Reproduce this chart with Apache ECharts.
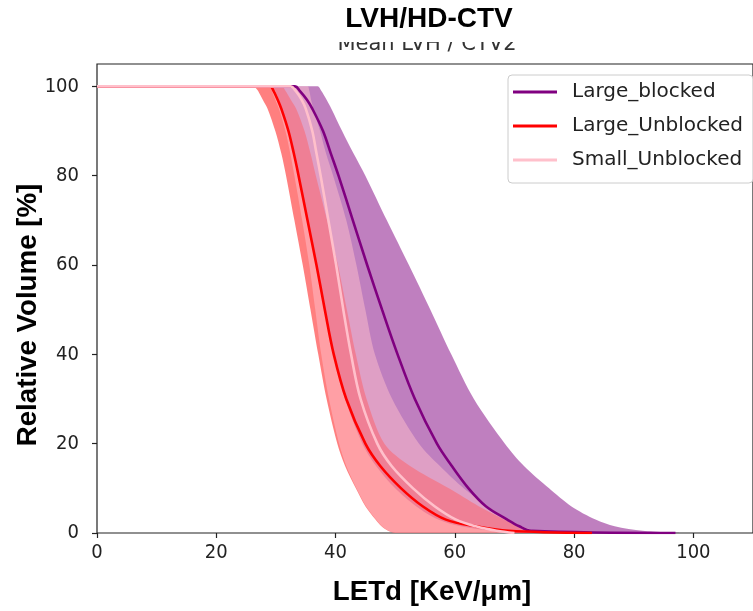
<!DOCTYPE html>
<html>
<head>
<meta charset="utf-8">
<script src="https://cdn.jsdelivr.net/npm/echarts@6/dist/echarts.min.js"></script>
<style>
html,body{margin:0;padding:0;background:#fff;}
#chart{width:753px;height:611px;}
</style>
</head>
<body>
<div id="chart"></div>
<script>
// relative volume levels [%] at which the LETd values were read
var volume = [100, 99, 97, 95, 90, 85, 80, 70, 60, 50, 40, 30, 20, 15, 10, 6, 3, 1.5, 0.5, 0];

// Large_blocked
var blockedMean = [33.2, 34.0, 35.2, 36.1, 37.9, 39.2, 40.5, 42.9, 45.3, 47.8, 50.4, 53.3, 57.0, 59.5, 62.3, 65.2, 68.8, 70.8, 72.8, 97.0];
var blockedLow  = [29.5, 29.9, 30.5, 31.0, 32.2, 33.0, 33.8, 35.3, 36.9, 38.3, 39.7, 41.6, 44.5, 46.8, 50.0, 53.5, 57.2, 61.0, 66.0, 70.0];
var blockedHigh = [37.0, 37.6, 38.5, 39.3, 41.1, 43.0, 45.0, 48.6, 52.3, 55.9, 59.4, 63.2, 68.4, 71.6, 75.8, 79.5, 83.6, 86.8, 91.5, 97.5];

// Large_Unblocked
var unblockedMean = [29.0, 29.6, 30.3, 30.9, 32.1, 33.0, 33.8, 35.3, 36.8, 38.2, 39.7, 41.8, 45.0, 47.5, 51.0, 54.6, 58.5, 63.5, 69.0, 83.0];
var unblockedLow  = [26.5, 27.0, 27.8, 28.6, 29.9, 30.9, 31.7, 33.1, 34.5, 35.8, 37.1, 38.5, 40.3, 41.6, 43.4, 45.0, 46.7, 47.7, 48.8, 50.0];
var unblockedHigh = [31.0, 31.6, 32.5, 33.4, 34.8, 35.8, 36.7, 38.6, 40.4, 41.9, 43.4, 45.2, 48.2, 52.5, 59.0, 64.0, 68.3, 70.3, 71.8, 72.5];

// Small_Unblocked
var smallMean = [32.5, 33.3, 34.3, 35.0, 36.1, 36.8, 37.5, 38.8, 40.1, 41.3, 42.6, 44.2, 47.0, 49.4, 53.0, 56.6, 60.2, 63.5, 67.0, 70.0];
var smallLow  = [29.0, 29.3, 29.9, 30.5, 31.6, 32.4, 33.1, 34.4, 35.6, 36.6, 37.6, 38.9, 40.6, 41.8, 43.5, 45.1, 46.8, 47.8, 48.9, 50.0];
var smallHigh = [35.3, 35.6, 35.9, 36.3, 37.4, 38.4, 39.6, 41.8, 43.5, 45.0, 46.6, 49.5, 54.0, 57.5, 61.5, 65.5, 69.0, 71.2, 73.5, 75.0];

var xTicks = [0, 20, 40, 60, 80, 100];
var yTicks = [0, 20, 40, 60, 80, 100];

var tickFont = "'Liberation Sans Narrow', 'DejaVu Sans Condensed', 'DejaVu Sans', sans-serif";
var boldFont = 'bold 27.7px "Liberation Sans", Arial, sans-serif';

// band polygon (upper edge down, lower edge back up)
function bandSeries(name, low, high, fill){
	var pts = [];
	for(var i=0;i<volume.length;i++){ pts.push([high[i], volume[i]]); }
	for(var j=volume.length-1;j>=0;j--){ pts.push([low[j], volume[j]]); }
	return {
		name: name,
		type: 'custom',
		coordinateSystem: 'cartesian2d',
		silent: true,
		clip: true,
		z: 1,
		data: [[0, 0]],
		renderItem: function(params, api){
			var p = [];
			for(var k=0;k<pts.length;k++){ p.push(api.coord(pts[k])); }
			var top = api.coord([0, 100])[1];
			var bottom = api.coord([0, 0])[1];
			return {
				type: 'polygon',
				shape: { points: p, smooth: 0.3, smoothConstraint: [[0, top], [800, bottom]] },
				style: { fill: fill, stroke: null }
			};
		}
	};
}

// mean line, flat at 100 from LETd = 0
function lineSeries(name, mean, color){
	var d = [[0, 100]];
	for(var i=0;i<volume.length;i++){ d.push([mean[i], volume[i]]); }
	return {
		name: name,
		type: 'line',
		data: d,
		color: color,
		showSymbol: false,
		symbol: 'none',
		smooth: 0.35,
		z: 3,
		lineStyle: { color: color, width: 2.6 },
		silent: true
	};
}

var myChart = echarts.init(document.getElementById('chart'), null, {renderer: 'canvas'});
myChart.setOption({
	animation: false,
	backgroundColor: '#fff',
	grid: {
		left: 97, top: 64, width: 663, height: 469,
		show: true, borderColor: '#222', borderWidth: 1.2,
		containLabel: false
	},
	legend: {
		orient: 'vertical',
		left: 508, top: 75,
		data: [
			{name: 'Large_blocked', icon: 'rect'},
			{name: 'Large_Unblocked', icon: 'rect'},
			{name: 'Small_Unblocked', icon: 'rect'}
		],
		itemWidth: 44, itemHeight: 3, itemGap: 14,
		padding: [7, 10, 13, 5],
		backgroundColor: '#fff',
		borderColor: '#cccccc', borderWidth: 1, borderRadius: 4,
		selectedMode: false,
		textStyle: { fontFamily: 'DejaVu Sans', fontSize: 20, lineHeight: 20, color: '#222', padding: [0, 0, 0, 10] }
	},
	xAxis: {
		type: 'value', min: 0, max: 110, interval: 20,
		axisLine: { show: false },
		axisTick: { show: true, length: 5, lineStyle: { color: '#222', width: 1.2 } },
		splitLine: { show: false },
		axisLabel: {
			margin: 10, fontSize: 20, color: '#222', fontFamily: tickFont,
			showMaxLabel: false,
			formatter: function(v){ return xTicks.indexOf(v) >= 0 ? String(v) : ''; }
		}
	},
	yAxis: {
		type: 'value', min: 0, max: 105, interval: 20,
		axisLine: { show: false },
		axisTick: { show: true, length: 5, lineStyle: { color: '#222', width: 1.2 } },
		splitLine: { show: false },
		axisLabel: {
			margin: 18, fontSize: 20, color: '#222', fontFamily: tickFont,
			showMaxLabel: false,
			formatter: function(v){ return yTicks.indexOf(v) >= 0 ? String(v) : ''; }
		}
	},
	graphic: [
		{ type: 'text', z: 10, style: { text: 'Mean LVH / CTV2', x: 427, y: 55, textAlign: 'center', textVerticalAlign: 'bottom', verticalAlign: 'bottom', font: '21px "DejaVu Sans"', fill: '#333' } },
		{ type: 'rect', z: 11, shape: { x: 0, y: 0, width: 753, height: 42 }, style: { fill: '#fff' } },
		{ type: 'text', z: 12, style: { text: 'LVH/HD-CTV', x: 429, y: 19, textAlign: 'center', textVerticalAlign: 'middle', verticalAlign: 'middle', font: 'bold 28px "Liberation Sans", Arial, sans-serif', fill: '#000' } },
		{ type: 'text', z: 12, style: { text: 'LETd [KeV/μm]', x: 432, y: 592, textAlign: 'center', textVerticalAlign: 'middle', verticalAlign: 'middle', font: boldFont, fill: '#000' } },
		{ type: 'text', z: 12, x: 28, y: 315, rotation: Math.PI / 2, style: { text: 'Relative Volume [%]', x: 0, y: 0, textAlign: 'center', textVerticalAlign: 'middle', verticalAlign: 'middle', font: boldFont, fill: '#000' } }
	],
	series: [
		bandSeries('band_blocked', blockedLow, blockedHigh, 'rgba(128,0,128,0.5)'),
		bandSeries('band_unblocked', unblockedLow, unblockedHigh, 'rgba(255,0,0,0.5)'),
		bandSeries('band_small', smallLow, smallHigh, 'rgba(255,192,203,0.5)'),
		lineSeries('Large_blocked', blockedMean, '#800080'),
		lineSeries('Large_Unblocked', unblockedMean, '#ff0000'),
		lineSeries('Small_Unblocked', smallMean, '#ffc0cb')
	]
});
</script>
</body>
</html>
